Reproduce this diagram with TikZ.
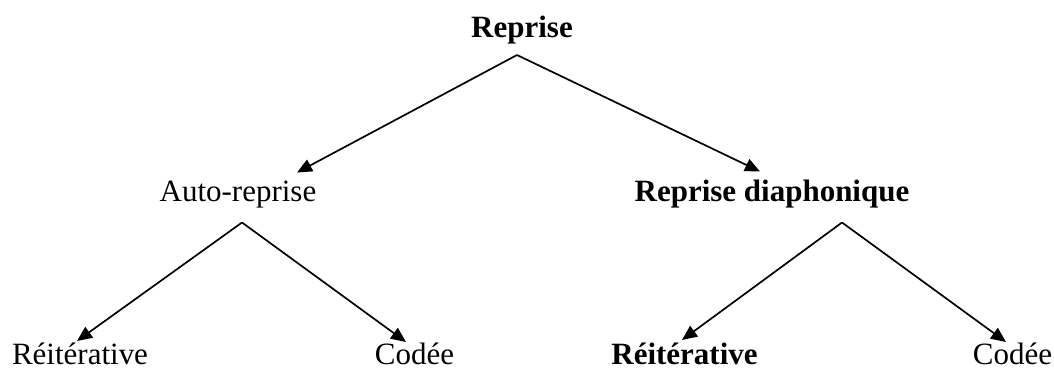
\documentclass[tikz,border=0pt]{standalone}
\usepackage{fontspec}
\setmainfont{Liberation Serif}
\usetikzlibrary{arrows.meta}

\tikzset{lbl/.style={inner sep=0pt,anchor=base,font=\fontsize{31.1}{37}\selectfont},
         blbl/.style={lbl,font=\fontsize{31.1}{37}\selectfont\bfseries}}

\begin{document}
\begin{tikzpicture}[x=1bp,y=-1bp,>={Triangle[length=15bp,width=13bp]},line width=1.7bp]
        \useasboundingbox (0,0) rectangle (1054,367);
        % top
        \node[blbl] (root) at (522,37) {Reprise};
        % middle
        \node[lbl]  (auto)  at (238,201.5) {Auto-reprise};
        \node[blbl] (diaph) at (772,201.5) {Reprise diaphonique};
        % bottom
        \node[lbl]  (reitA) at (80,364)     {Réitérative};
        \node[lbl]  (codA)  at (414.5,364)  {Codée};
        \node[blbl] (reitB) at (684.5,364)  {Réitérative};
        \node[lbl]  (codB)  at (1012.5,364) {Codée};
        % arrows
        \foreach \from/\fx/\fy/\to/\tx/\ty in {root/-5/-18/auto/59/29, root/-5/-18/diaph/-12/30,
            auto/4/-21/reitA/-3/23, auto/4/-21/codA/-8.5/22,
            diaph/70/-21/reitB/-2.5/24, diaph/70/-21/codB/-6.5/22}
          \draw[->] ([xshift=\fx bp,yshift=\fy bp]\from.base) -- ([xshift=\tx bp,yshift=\ty bp]\to.base);
\end{tikzpicture}
\end{document}
